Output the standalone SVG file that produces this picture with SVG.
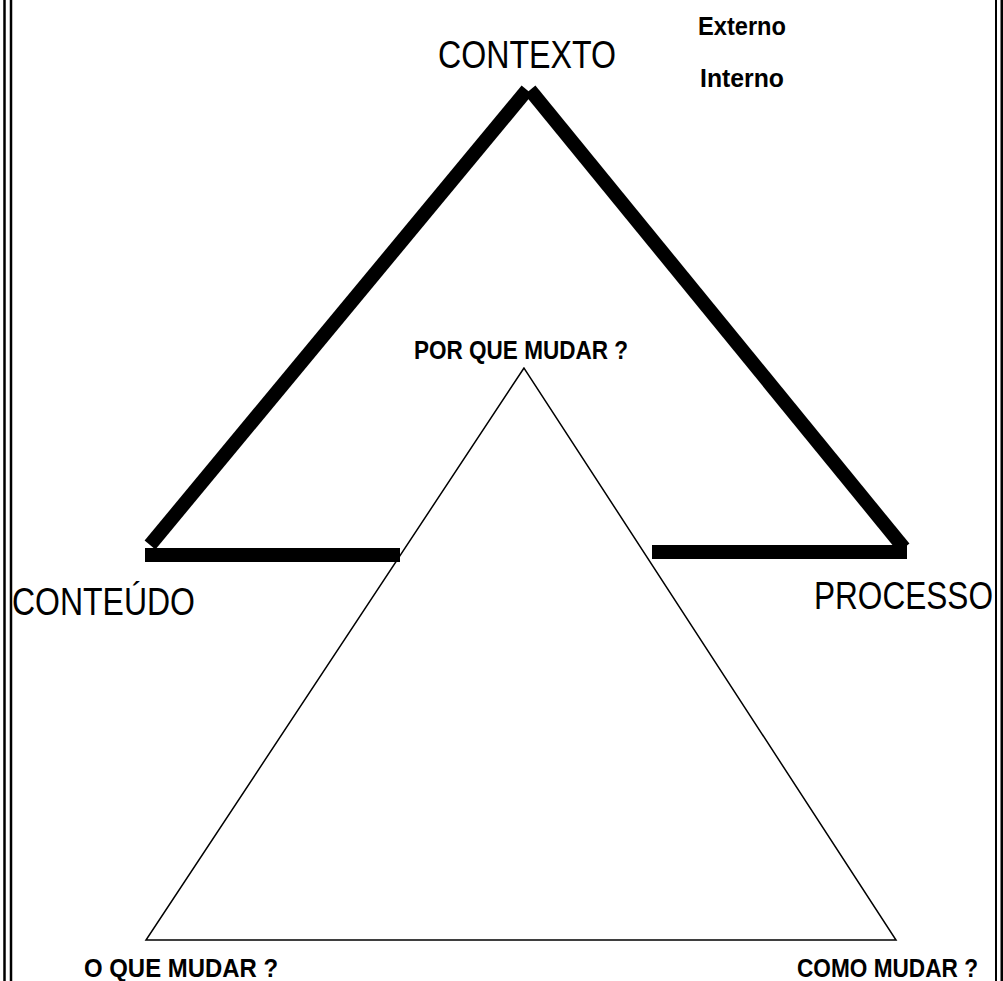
<svg xmlns="http://www.w3.org/2000/svg" width="1003" height="981" viewBox="0 0 1003 981">
<style>
.big{font-family:"Liberation Sans",Arial,sans-serif;font-size:38px;fill:#000}
.small{font-family:"Liberation Sans",Arial,sans-serif;font-size:26px;font-weight:bold;fill:#000}
.thick{stroke:#000;stroke-width:14;fill:none;stroke-linecap:butt}
.thin{stroke:#000;stroke-width:1.5;fill:none;stroke-linejoin:miter}
.border{stroke:#000;fill:none}
</style>
<rect width="1003" height="981" fill="#fff"/>
<g id="border">
<line class="border" x1="4.5" y1="0" x2="4.5" y2="981" stroke-width="2.5"/>
<line class="border" x1="11" y1="0" x2="11" y2="981" stroke-width="2.5"/>
<line class="border" x1="996" y1="0" x2="996" y2="981" stroke-width="2"/>
<line class="border" x1="1002" y1="0" x2="1002" y2="981" stroke-width="3"/>
</g>
<g id="connectors">
<g id="outer-triangle">
<line class="thick" x1="527" y1="90" x2="150" y2="545"/>
<line class="thick" x1="530" y1="90" x2="904" y2="548"/>
<line class="thick" x1="145" y1="555" x2="400" y2="555"/>
<line class="thick" x1="652" y1="552" x2="907" y2="552"/>
</g>
<g id="inner-triangle">
<polygon class="thin" points="524,368 146,940 896,940"/>
</g>
</g>
<g id="contexto">
<text class="big" x="438" y="68" textLength="178" lengthAdjust="spacingAndGlyphs">CONTEXTO</text>
<text class="small" x="698" y="35" textLength="88" lengthAdjust="spacingAndGlyphs">Externo</text>
<text class="small" x="700" y="87" textLength="84" lengthAdjust="spacingAndGlyphs">Interno</text>
</g>
<g id="conteudo">
<text class="big" x="12" y="615" textLength="183" lengthAdjust="spacingAndGlyphs">CONTEÚDO</text>
</g>
<g id="processo">
<text class="big" x="814" y="609" textLength="179" lengthAdjust="spacingAndGlyphs">PROCESSO</text>
</g>
<g id="por-que">
<text class="small" x="414" y="359" textLength="214" lengthAdjust="spacingAndGlyphs">POR QUE MUDAR ?</text>
</g>
<g id="o-que">
<text class="small" x="84" y="977" textLength="194" lengthAdjust="spacingAndGlyphs">O QUE MUDAR ?</text>
</g>
<g id="como">
<text class="small" x="797" y="977" textLength="181" lengthAdjust="spacingAndGlyphs">COMO MUDAR ?</text>
</g>
</svg>
